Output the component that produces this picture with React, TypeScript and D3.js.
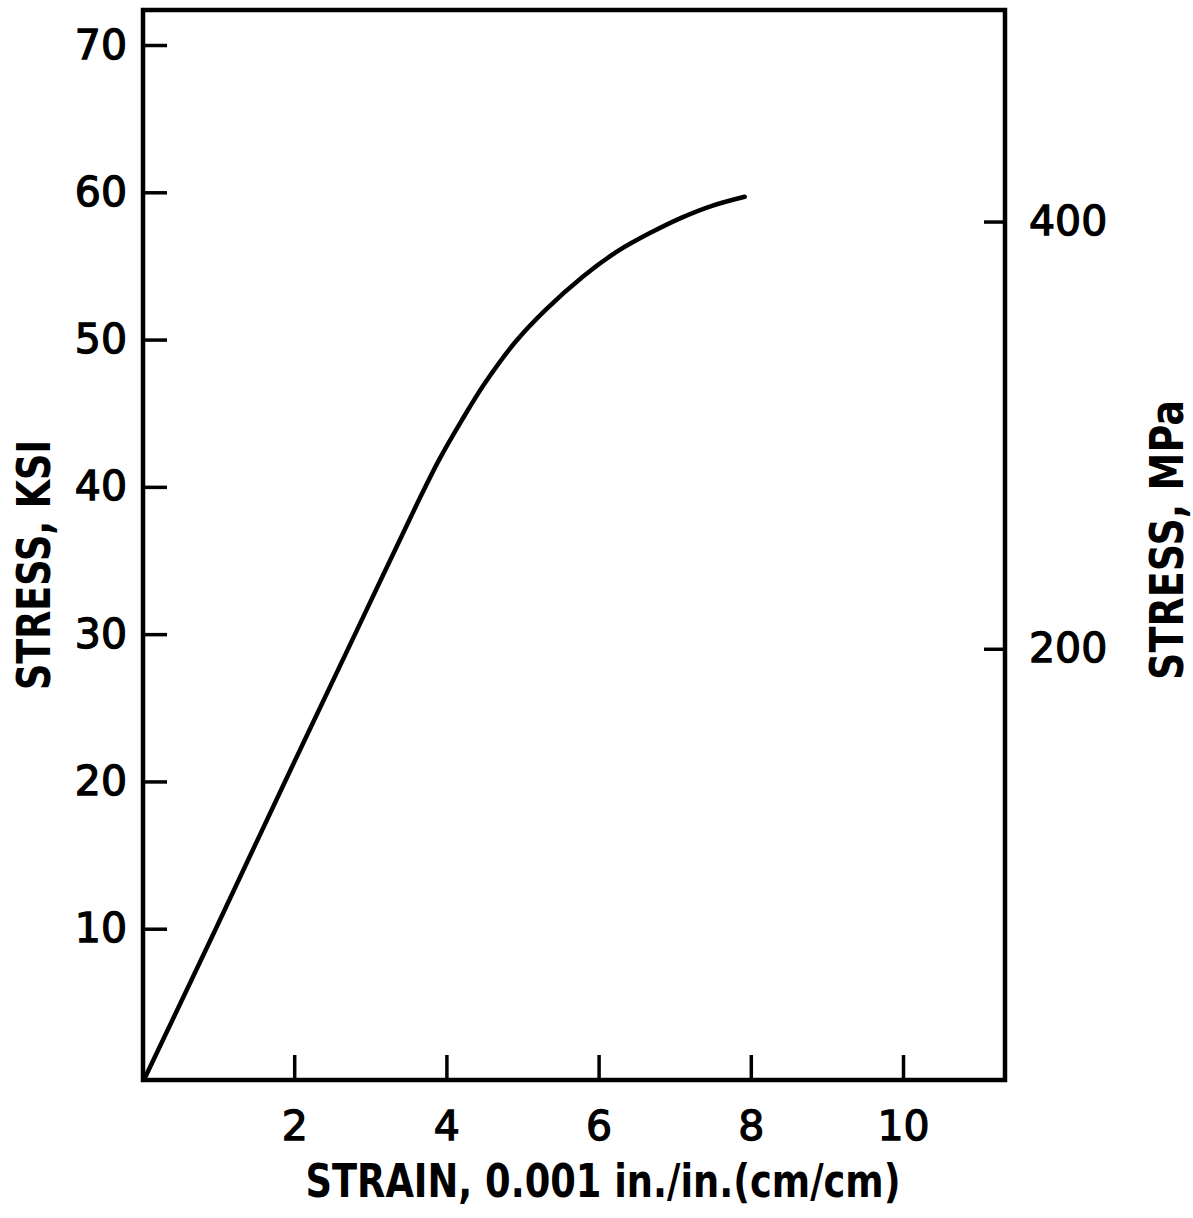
import { useEffect, useRef } from "react";
import * as d3 from "d3";

// strain in 0.001 in./in., stress in ksi
const strain = [0.05, 0.97, 1.88, 2.8, 3.25, 3.61, 3.9, 4.2, 4.5, 4.9, 5.3, 5.8, 6.25, 6.7, 7.1, 7.5, 7.92];
const stress = [0, 10, 20, 30, 34.9, 38.8, 41.8, 44.5, 47.0, 49.8, 52.0, 54.3, 56.0, 57.3, 58.3, 59.1, 59.7];

const ksiTicks = [10, 20, 30, 40, 50, 60, 70];
const mpaTicks = [200, 400];
const strainTicks = [2, 4, 6, 8, 10];
const KSI_TO_MPA = 6.895;

const W = 1193;
const H = 1218;
const frame = { left: 143, right: 1005, top: 10, bottom: 1080 };

const App = () => {
  const svgRef = useRef<SVGSVGElement>(null);

  useEffect(() => {
    const svg = d3.select(svgRef.current);
    svg.selectAll("*").remove();

    const x = d3.scaleLinear().domain([0, 10]).range([142, 903]);
    const y = d3.scaleLinear().domain([0, 70]).range([1076, 45]);
    const yM = d3.scaleLinear().domain([0, 70 * KSI_TO_MPA]).range([1076, 45]);

    const font = "'DejaVu Sans', sans-serif";

    // frame
    svg.append("rect")
      .attr("x", frame.left).attr("y", frame.top)
      .attr("width", frame.right - frame.left).attr("height", frame.bottom - frame.top)
      .attr("fill", "none").attr("stroke", "#000").attr("stroke-width", 4.5);

    const styleAxis = (g: any) => {
      g.select(".domain").remove();
      g.selectAll(".tick line").attr("stroke", "#000").attr("stroke-width", 3.5);
      g.selectAll(".tick text")
        .attr("fill", "#000").attr("stroke", "#000").attr("stroke-width", 1.3)
        .attr("font-family", font).attr("font-size", 41);
    };

    svg.append("g").attr("transform", `translate(${frame.left},0)`)
      .call(d3.axisLeft(y).tickValues(ksiTicks).tickSizeInner(-24).tickSizeOuter(0).tickPadding(16))
      .call(styleAxis);

    svg.append("g").attr("transform", `translate(${frame.right},0)`)
      .call(d3.axisRight(yM).tickValues(mpaTicks).tickSizeInner(-21).tickSizeOuter(0).tickPadding(24))
      .call(styleAxis);

    svg.append("g").attr("transform", `translate(0,${frame.bottom})`)
      .call(d3.axisBottom(x).tickValues(strainTicks).tickSizeInner(-25).tickSizeOuter(0).tickPadding(31))
      .call(styleAxis);

    // curve
    const pts = strain.map((s, i) => [s, stress[i]] as [number, number]);
    const line = d3.line<[number, number]>()
      .x((d) => x(d[0]))
      .y((d) => y(d[1]))
      .curve(d3.curveCatmullRom.alpha(0.5));
    svg.append("path").datum(pts)
      .attr("fill", "none").attr("stroke", "#000").attr("stroke-width", 4.5)
      .attr("stroke-linecap", "round").attr("d", line);

    // titles
    const title = (sel: any) =>
      sel.attr("text-anchor", "middle")
        .attr("font-family", font).attr("font-weight", "bold").attr("font-size", 46)
        .attr("lengthAdjust", "spacingAndGlyphs");

    svg.append("text")
      .attr("x", 603).attr("y", 1197)
      .attr("textLength", 595)
      .call(title)
      .text("STRAIN, 0.001 in./in.(cm/cm)");

    svg.append("text")
      .attr("transform", `translate(50,565) rotate(-90)`)
      .attr("textLength", 250)
      .call(title)
      .text("STRESS, KSI");

    svg.append("text")
      .attr("transform", `translate(1183,540) rotate(-90)`)
      .attr("textLength", 280)
      .call(title)
      .text("STRESS, MPa");
  }, []);

  return (
    <svg
      ref={svgRef}
      width={W}
      height={H}
      style={{ position: "absolute", left: 0, top: 0, background: "#fff" }}
    ></svg>
  );
};

export default App;
